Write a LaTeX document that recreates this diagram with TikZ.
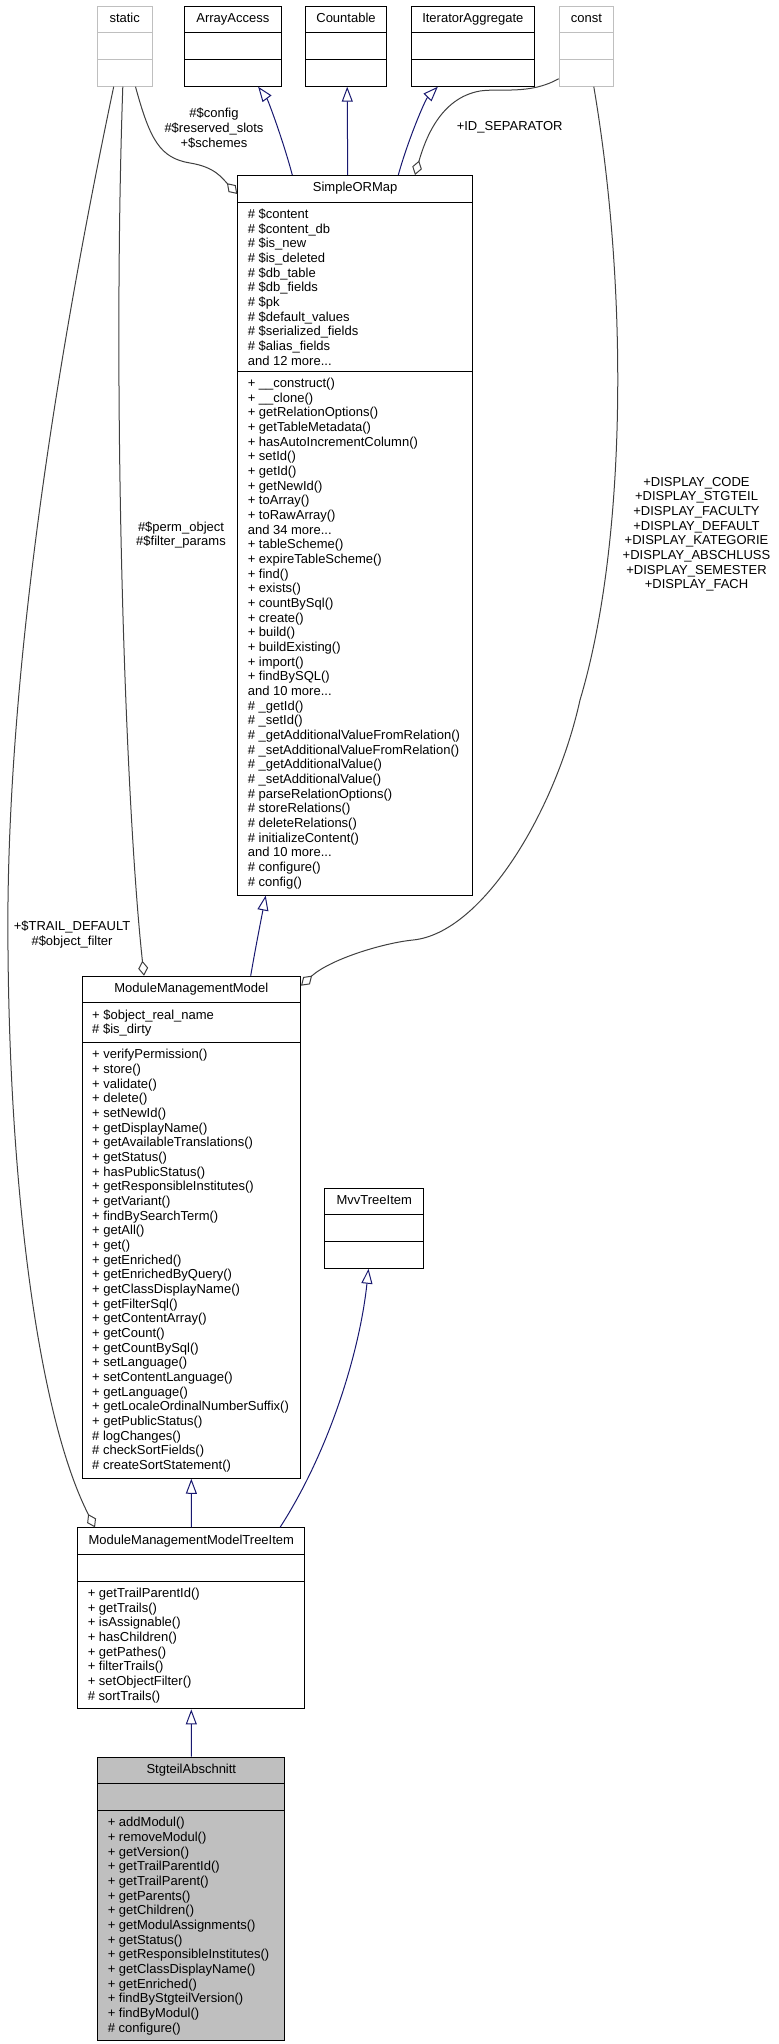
\documentclass[tikz,border=0pt]{standalone}
\usepackage{fontspec}
\setmainfont{Liberation Sans}
\usetikzlibrary{shapes.multipart, arrows.meta}
\definecolor{navy}{HTML}{191970}
\definecolor{edgegray}{HTML}{404040}
\definecolor{extgray}{HTML}{BFBFBF}
\newcommand{\clsfont}{\fontsize{13bp}{14.67bp}\selectfont}
\tikzset{
    cls/.style={draw=black, line width=1bp, rectangle split, rectangle split parts=3,
        rectangle split part align={center,left,left}, inner xsep=10bp, inner ysep=5.5bp,
        anchor=north west, font=\clsfont, align=left},
    extcls/.style={cls, draw=extgray},
    maincls/.style={cls, fill=extgray},
    inherit/.style={draw=navy, line width=1bp, -{Triangle[open, length=15bp, width=11bp]}},
    aggr/.style={draw=edgegray, line width=1bp, -{Diamond[open, length=15bp, width=10bp]}},
    lbl/.style={font=\clsfont, align=center, inner sep=0pt},
}

\begin{document}
\begin{tikzpicture}[x=1bp, y=-1bp]
    \useasboundingbox (0,0) rectangle (779,2044);

    % top row
    \node[extcls, minimum width=55bp] (static) at (96.7,5.7) {\strut static \nodepart{second}\strut \nodepart{third}\strut};
    \node[cls, minimum width=97.3bp] (arracc) at (183.7,5.7) {\strut ArrayAccess \nodepart{second}\strut \nodepart{third}\strut};
    \node[cls, minimum width=81bp] (cntbl) at (305,5.7) {\strut Countable \nodepart{second}\strut \nodepart{third}\strut};
    \node[cls, minimum width=123.3bp] (iteragg) at (410.7,5.7) {\strut IteratorAggregate \nodepart{second}\strut \nodepart{third}\strut};
    \node[extcls, minimum width=54.6bp] (const) at (558.7,5.7) {\strut const \nodepart{second}\strut \nodepart{third}\strut};

    % base classes
    \node[cls, minimum width=234.7bp] (smap) at (237.3,175) {\strut SimpleORMap
        \nodepart{second}\strut
        \# \$content\\
        \# \$content\_db\\
        \# \$is\_new\\
        \# \$is\_deleted\\
        \# \$db\_table\\
        \# \$db\_fields\\
        \# \$pk\\
        \# \$default\_values\\
        \# \$serialized\_fields\\
        \# \$alias\_fields\\
        and 12 more...
        \nodepart{third}\strut
        + \_\_construct()\\
        + \_\_clone()\\
        + getRelationOptions()\\
        + getTableMetadata()\\
        + hasAutoIncrementColumn()\\
        + setId()\\
        + getId()\\
        + getNewId()\\
        + toArray()\\
        + toRawArray()\\
        and 34 more...\\
        + tableScheme()\\
        + expireTableScheme()\\
        + find()\\
        + exists()\\
        + countBySql()\\
        + create()\\
        + build()\\
        + buildExisting()\\
        + import()\\
        + findBySQL()\\
        and 10 more...\\
        \# \_getId()\\
        \# \_setId()\\
        \# \_getAdditionalValueFromRelation()\\
        \# \_setAdditionalValueFromRelation()\\
        \# \_getAdditionalValue()\\
        \# \_setAdditionalValue()\\
        \# parseRelationOptions()\\
        \# storeRelations()\\
        \# deleteRelations()\\
        \# initializeContent()\\
        and 10 more...\\
        \# configure()\\
        \# config()};

    \node[cls, minimum width=218.3bp] (mmm) at (81.7,975.7) {\strut ModuleManagementModel
        \nodepart{second}\strut
        + \$object\_real\_name\\
        \# \$is\_dirty
        \nodepart{third}\strut
        + verifyPermission()\\
        + store()\\
        + validate()\\
        + delete()\\
        + setNewId()\\
        + getDisplayName()\\
        + getAvailableTranslations()\\
        + getStatus()\\
        + hasPublicStatus()\\
        + getResponsibleInstitutes()\\
        + getVariant()\\
        + findBySearchTerm()\\
        + getAll()\\
        + get()\\
        + getEnriched()\\
        + getEnrichedByQuery()\\
        + getClassDisplayName()\\
        + getFilterSql()\\
        + getContentArray()\\
        + getCount()\\
        + getCountBySql()\\
        + setLanguage()\\
        + setContentLanguage()\\
        + getLanguage()\\
        + getLocaleOrdinalNumberSuffix()\\
        + getPublicStatus()\\
        \# logChanges()\\
        \# checkSortFields()\\
        \# createSortStatement()};

    \node[cls, minimum width=99bp] (mvv) at (324.3,1187.7) {\strut MvvTreeItem \nodepart{second}\strut \nodepart{third}\strut};

    \node[cls, minimum width=227bp] (mmmti) at (77.3,1527.4) {\strut ModuleManagementModelTreeItem
        \nodepart{second}\strut
        \nodepart{third}\strut
        + getTrailParentId()\\
        + getTrails()\\
        + isAssignable()\\
        + hasChildren()\\
        + getPathes()\\
        + filterTrails()\\
        + setObjectFilter()\\
        \# sortTrails()};

    \node[maincls, minimum width=187bp] (stg) at (97.3,1756.6) {\strut StgteilAbschnitt
        \nodepart{second}\strut
        \nodepart{third}\strut
        + addModul()\\
        + removeModul()\\
        + getVersion()\\
        + getTrailParentId()\\
        + getTrailParent()\\
        + getParents()\\
        + getChildren()\\
        + getModulAssignments()\\
        + getStatus()\\
        + getResponsibleInstitutes()\\
        + getClassDisplayName()\\
        + getEnriched()\\
        + findByStgteilVersion()\\
        + findByModul()\\
        \# configure()};

    % member labels
    \node[lbl] (cfglbl) at (214,128) {\#\$config\\\#\$reserved\_slots\\+\$schemes};
    \node[lbl] (idlbl) at (509.7,127.3) {+ID\_SEPARATOR};
    \node[lbl] (permlbl) at (181,535) {\#\$perm\_object\\\#\$filter\_params};
    \node[lbl] (displbl) at (696.5,534.3) {+DISPLAY\_CODE\\+DISPLAY\_STGTEIL\\+DISPLAY\_FACULTY\\+DISPLAY\_DEFAULT\\+DISPLAY\_KATEGORIE\\+DISPLAY\_ABSCHLUSS\\+DISPLAY\_SEMESTER\\+DISPLAY\_FACH};
    \node[lbl] (traillbl) at (72,934.5) {+\$TRAIL\_DEFAULT\\\#\$object\_filter};

    % inheritance
    \draw[inherit] ([xshift=55bp]smap.north west) .. controls (283,140) and (268,100) .. ([xshift=25.3bp]arracc.south);
    \draw[inherit] ([xshift=110.4bp]smap.north west) -- ([xshift=1.2bp]cntbl.south);
    \draw[inherit] ([xshift=161bp]smap.north west) .. controls (408,140) and (425,100) .. ([xshift=-35bp]iteragg.south);
    \draw[inherit] ([xshift=169bp]mmm.north west) .. controls (256,945) and (262,915) .. ([xshift=28.4bp]smap.south west);
    \draw[inherit] (mmmti.north) -- (mmm.south);
    \draw[inherit] ([xshift=202.7bp]mmmti.north west) .. controls (330,1450) and (360,1350) .. ([xshift=-5.8bp]mvv.south);
    \draw[inherit] (stg.north) -- (mmmti.south);

    % usage
    \draw[aggr] ([xshift=10.8bp]static.south) .. controls (150,140) and (160,158) .. (190,163)
        .. controls (215,167) and (222,178) .. ([yshift=-19bp]smap.north west);
    \draw[aggr] ([yshift=8bp]const.south west) .. controls (530,95) and (500,88) .. (480,91)
        .. controls (440,98) and (425,140) .. ([xshift=177.7bp]smap.north west);
    \draw[aggr] ([xshift=-1.9bp]static.south) .. controls (112,400) and (125,800) .. ([xshift=62.3bp]mmm.north west);
    \draw[aggr] ([xshift=-11bp]static.south) .. controls (50,390) and (5,700) .. (8,950)
        .. controls (10,1200) and (40,1420) .. ([xshift=17.7bp]mmmti.north west);
    \draw[aggr] ([xshift=7.3bp]const.south) .. controls (630,300) and (625,550) .. (580,700)
        .. controls (555.8,810) and (483,933) .. (413,940)
        .. controls (383,943) and (330,959.3) .. ([yshift=-10bp]mmm.north east);
\end{tikzpicture}
\end{document}
